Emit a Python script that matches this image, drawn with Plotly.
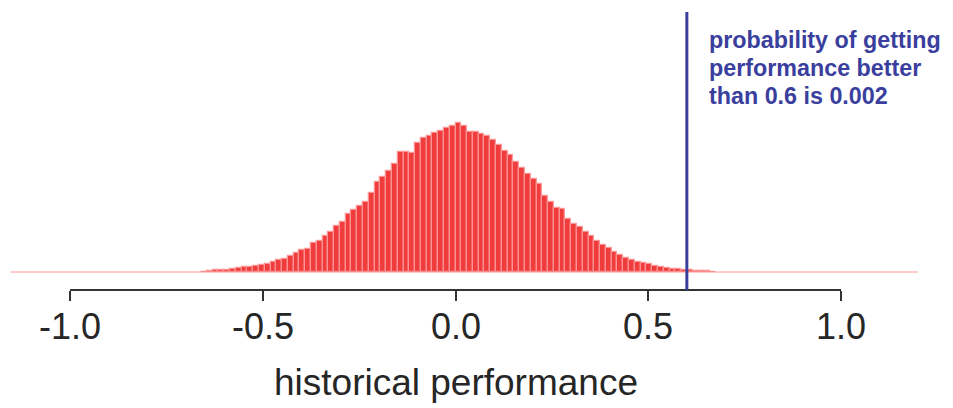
import numpy as np
import plotly.graph_objects as go

# ---- data ----
bin_width = 0.015
first_left_edge = -0.66          # left edge of first non-empty bin
hist_range = [-1.155, 1.2]       # full histogram range (empty bins drawn as baseline)
counts = [10, 30, 50, 50, 50, 60, 80, 100, 110, 120, 140, 160, 200, 250, 260, 320,
          380, 440, 460, 580, 620, 720, 800, 920, 1000, 1160, 1240, 1320, 1400, 1580,
          1800, 1900, 2020, 2160, 2400, 2400, 2380, 2580, 2680, 2720, 2780, 2820, 2880,
          2920, 2980, 2920, 2800, 2800, 2760, 2720, 2640, 2540, 2420, 2340, 2200, 2080,
          1960, 1860, 1760, 1520, 1400, 1280, 1260, 1060, 960, 900, 800, 720, 620, 540,
          480, 400, 340, 280, 240, 200, 180, 160, 120, 100, 80, 60, 60, 40, 40, 30, 30,
          20, 10]
threshold = 0.6
probability = "0.002"
tick_vals = [-1.0, -0.5, 0.0, 0.5, 1.0]
tick_labels = ["-1.0", "-0.5", "0.0", "0.5", "1.0"]
x_title = "historical performance"
note_lines = ["probability of getting",
              "performance better",
              f"than {threshold} is {probability}"]

centers = first_left_edge + bin_width * (np.arange(len(counts)) + 0.5)

fig = go.Figure()
# empty bins -> thin pink baseline
fig.add_trace(go.Scatter(x=hist_range, y=[0, 0], mode="lines",
                         line=dict(color="rgba(255,120,120,0.75)", width=1),
                         hoverinfo="skip", showlegend=False))
fig.add_trace(go.Bar(x=centers, y=counts, width=bin_width,
                     marker=dict(color="rgb(240,60,60)",
                                 line=dict(color="rgba(252,150,150,0.9)", width=1.3)),
                     showlegend=False))

FONT = "Liberation Sans, Arial, sans-serif"
fig.update_layout(
    width=945, height=400,
    margin=dict(l=0, r=0, t=2, b=118),
    paper_bgcolor="white", plot_bgcolor="white",
    bargap=0,
    xaxis=dict(range=[-1.161, 1.2904], showgrid=False, zeroline=False, showline=False,
               ticks="outside", ticklen=10, tickwidth=2, tickcolor="#333333",
               tickvals=tick_vals, showticklabels=False),
    yaxis=dict(range=[-360, 5240], visible=False),
    font=dict(family=FONT),
)

# axis line only between first and last tick (R style)
fig.add_shape(type="line", xref="x", yref="paper", x0=tick_vals[0], x1=tick_vals[-1],
              y0=0, y1=0, line=dict(color="#333333", width=2))
# tick labels
for tv, tl in zip(tick_vals, tick_labels):
    fig.add_annotation(x=tv, y=-0.129, xref="x", yref="paper", text=tl,
                       showarrow=False, xanchor="center", yanchor="middle",
                       font=dict(family=FONT, size=36, color="#262626"))
# threshold line
fig.add_shape(type="line", xref="x", yref="y", x0=threshold, x1=threshold,
              y0=-360, y1=5200, line=dict(color="#3A3F9E", width=3))

# note text
for txt, yv in zip(note_lines, [4640, 4080, 3520]):
    fig.add_annotation(x=0.652, y=yv, xref="x", yref="y", text=f"<b>{txt}</b>",
                       showarrow=False, xanchor="left", yanchor="middle",
                       font=dict(family=FONT, size=23.3, color="#3A3F9E"))

# x title
fig.add_annotation(x=0.0, y=-0.332, xref="x", yref="paper", text=x_title,
                   showarrow=False, xanchor="center", yanchor="middle",
                   font=dict(family=FONT, size=37, color="#262626"))

fig.write_html("out.html")
